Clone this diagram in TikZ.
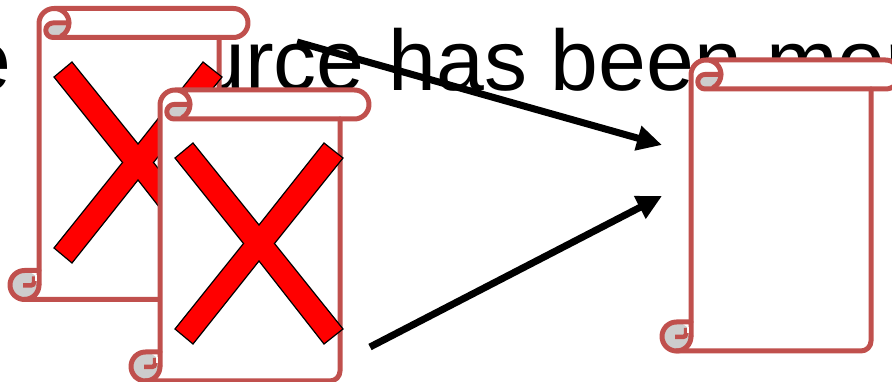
\documentclass[tikz,border=0pt]{standalone}
\usepackage{fontspec}
\setmainfont{Liberation Sans}
\usetikzlibrary{arrows.meta}
\definecolor{scrollred}{HTML}{C0504D}
\definecolor{scrollgray}{HTML}{CDCDCD}
\tikzset{
  x=1pt,y=1pt,
  scrollline/.style={draw=scrollred,line width=5pt,line join=round,line cap=round},
  crossmark/.style={fill=red,draw=black,line width=1.2pt,line join=miter},
  bigarrow/.style={draw=black,line width=7pt,-{Triangle[length=25pt,width=24pt]}},
  headline/.style={font=\fontsize{86}{86}\selectfont,anchor=base west,inner sep=0pt,outer sep=0pt}
}
% #1,#2 : left line and top of the scroll, in pixels from the top left
\newcommand{\drawscroll}[2]{%
\begin{scope}[shift={(#1,382-#2)}]
  \fill[white] (0,-15) -- (0,-291) -- (180,-291) -- (180,-29) -- cycle;
  \fill[white] (0,-15) arc(180:90:15) -- (194.5,0) arc(90:-90:14.5) -- (14,-29) -- cycle;
  \fill[scrollgray] (29,-17) arc(-10:-60:14.5) -- (14,-27) arc(270:90:5) -- cycle;
  \fill[scrollgray] (-14.5,-276.5) circle (14);
  \path[scrollline] (0,-262) -- (0,-15) arc(180:90:15) -- (194.5,0) arc(90:-90:14.5)
     -- (14,-29) arc(270:90:7.25) -- (30,-14.5) arc(0:90:14.5);
  \path[scrollline] (30,-14.5) arc(0:-60:15);
  \path[scrollline] (180,-29) -- (180,-281) arc(0:-90:10) -- (-14.5,-291) arc(270:90:14.5) -- (0,-262) -- (0,-276.5);
  \path[scrollline] (-14.5,-291) arc(270:360:14.5);
  \path[draw=scrollred,line width=4.5pt] (-16,-277) -- (-8,-277) arc(-90:0:3) -- (-5,-268);
  \path[draw=white,line width=1.5pt] (-2.8,-267) -- (-2.8,-273);
\end{scope}}
% #1,#2 : centre of the cross, in pixels from the top left
\newcommand{\drawcross}[2]{%
\begin{scope}[shift={(#1,382-#2)}]
  \path[crossmark] (-84,85.5) -- (-66,100.5) -- (0,18.5) -- (65,100.5) -- (84,85.5) -- (15.5,0)
    -- (84,-85.5) -- (65,-100.5) -- (0,-17.5) -- (-66,-100.5) -- (-84,-85.5) -- (-15.5,0) -- cycle;
\end{scope}}
\begin{document}
\begin{tikzpicture}
\useasboundingbox (0,0) rectangle (892,382);
\clip (0,0) rectangle (892,382);
\node[headline] (title) at (-137,291) {The r\kern-5pt esource has been more};
\drawscroll{39}{8.5}
\drawcross{138}{162.5}
\drawscroll{160}{90}
\drawcross{259}{243.5}
\drawscroll{691}{60}
\coordinate (aOneS) at (297,340);
\coordinate (aOneE) at (662,237);
\coordinate (aTwoS) at (370,35);
\coordinate (aTwoE) at (662,186);
\draw[bigarrow] (aOneS) -- (aOneE);
\draw[bigarrow] (aTwoS) -- (aTwoE);
\end{tikzpicture}
\end{document}
